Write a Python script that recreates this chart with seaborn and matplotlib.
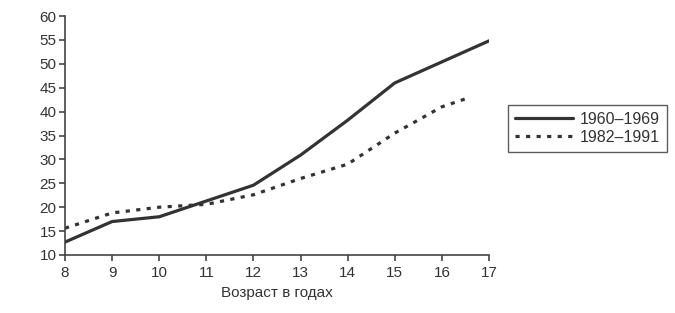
import matplotlib
matplotlib.use("Agg")
import matplotlib.pyplot as plt
import seaborn as sns
import pandas as pd

# значения
age_a = [8, 9, 10, 11, 12, 13, 14, 15, 16, 17]
val_a = [12.7, 17.0, 18.0, 21.3, 24.6, 30.9, 38.2, 46.0, 50.4, 54.8]
age_b = [8, 9, 10, 11, 12, 13, 14, 15, 16, 16.6]
val_b = [15.6, 18.8, 20.0, 20.6, 22.6, 26.0, 29.0, 35.5, 41.0, 43.0]
labels = ["1960–1969", "1982–1991"]

df = pd.concat([
    pd.DataFrame({"age": age_a, "val": val_a, "period": labels[0]}),
    pd.DataFrame({"age": age_b, "val": val_b, "period": labels[1]}),
])

sns.set_style("white")
plt.rcParams['font.family'] = ['Liberation Sans Narrow', 'Liberation Sans', 'DejaVu Sans']

fig = plt.figure(figsize=(6.75, 3.13), dpi=100)
ax = fig.add_axes([65 / 675, 1 - 255 / 313, 424 / 675, 239 / 313])

sns.lineplot(data=df, x="age", y="val", hue="period", style="period",
             palette=["#333333", "#333333"],
             dashes={labels[0]: "", labels[1]: (1.3, 2.0)},
             linewidth=2.3, ax=ax, legend=True)

ax.set_xlim(8, 17)
ax.set_ylim(10, 60)
ax.set_xticks(range(8, 18))
ax.set_yticks(range(10, 61, 5))
ax.set_xlabel("Возраст в годах", fontsize=11, color="#333333", labelpad=4)
ax.set_ylabel("")
sns.despine(ax=ax)
for s in ["left", "bottom"]:
    ax.spines[s].set_color("#444444")
    ax.spines[s].set_linewidth(1.2)
ax.tick_params(axis="both", direction="out", length=4, width=1.2,
               bottom=True, left=True,
               color="#444444", labelsize=11, labelcolor="#333333", pad=2)
ax.tick_params(axis="x", pad=4)

h, l = ax.get_legend_handles_labels()
leg = ax.legend(h, l, loc="center left", bbox_to_anchor=(1.045, 0.53),
                frameon=True, fancybox=False, fontsize=11.5, handlelength=3.6,
                borderpad=0.45, labelspacing=0.2, handletextpad=0.45,
                borderaxespad=0)
leg.get_frame().set_edgecolor("#333333")
leg.get_frame().set_linewidth(1.0)
for t in leg.get_texts():
    t.set_color("#333333")

fig.savefig("out.png", dpi=100)
